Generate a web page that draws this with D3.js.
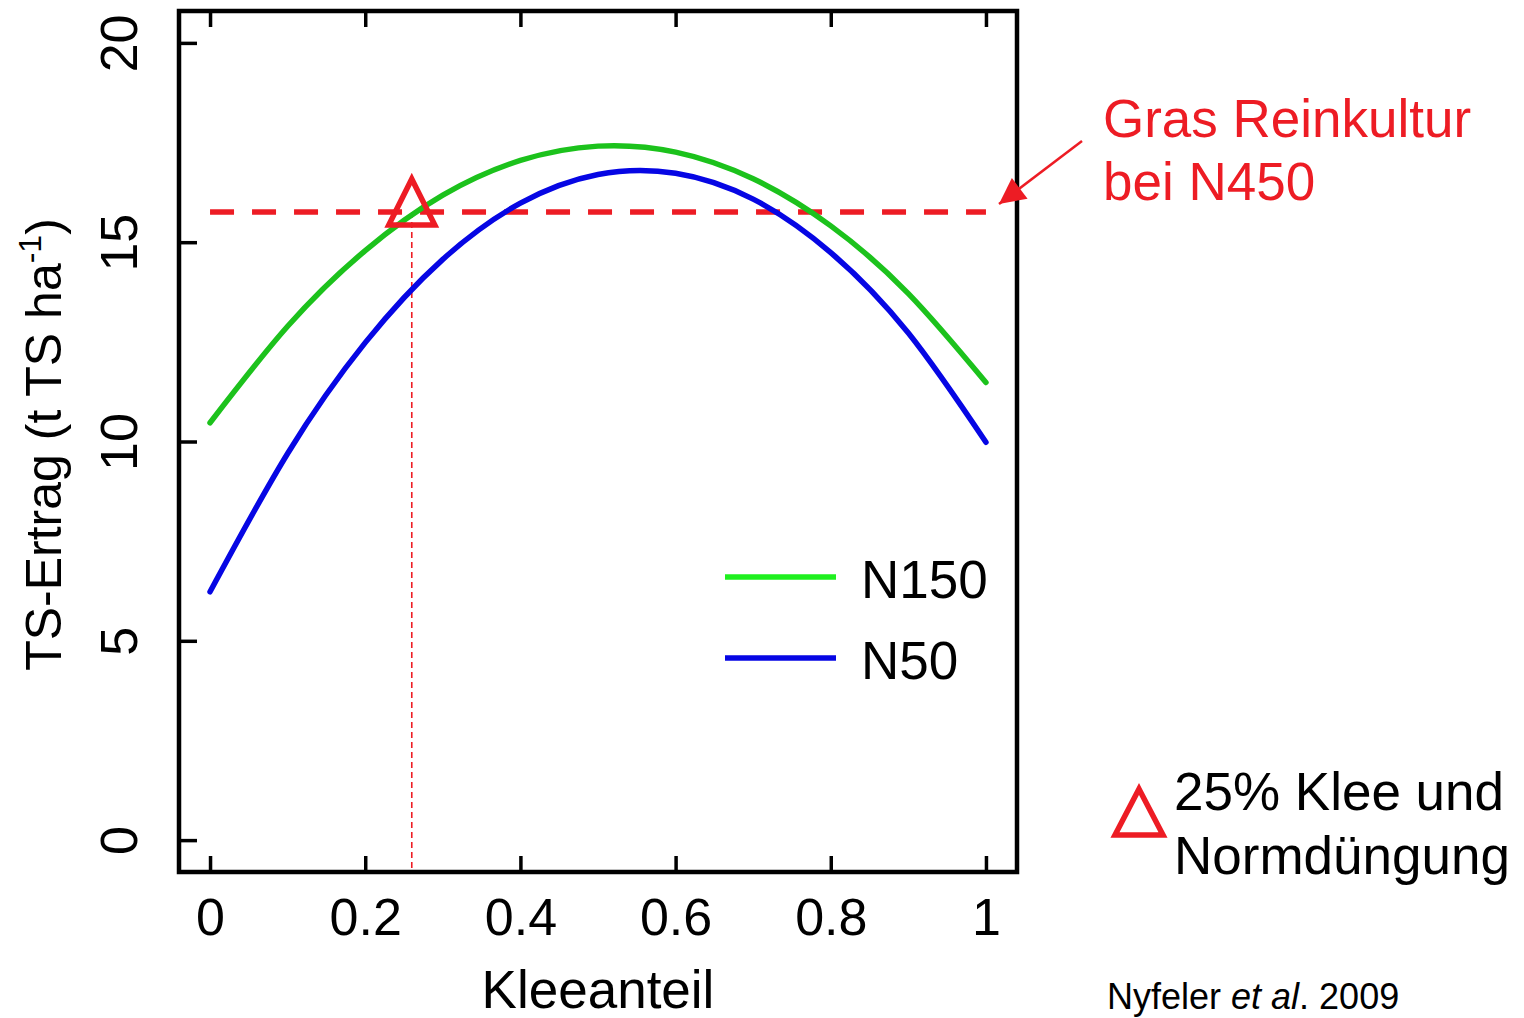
<!DOCTYPE html>
<html>
<head>
<meta charset="utf-8">
<script src="https://cdn.jsdelivr.net/npm/d3@7"></script>
<style>
  html, body { margin: 0; padding: 0; background: #fff; }
  svg { display: block; }
  text { font-family: "Liberation Sans", Arial, Helvetica, sans-serif; }
</style>
</head>
<body>
<svg id="chart" width="1524" height="1018"></svg>
<script>
// ---- data ----
const kleeanteil = [0, 0.1, 0.2, 0.3, 0.4, 0.5, 0.6, 0.7, 0.8, 0.9, 1.0];
const ertragN150 = [10.47, 12.89, 14.79, 16.18, 17.05, 17.41, 17.26, 16.59, 15.41, 13.71, 11.48];
const ertragN50  = [6.23, 9.70, 12.48, 14.57, 15.98, 16.70, 16.73, 16.08, 14.74, 12.72, 9.98];
const seriesNames = ["N150", "N50"];
const xTicks = [0, 0.2, 0.4, 0.6, 0.8, 1];
const xTickLabels = ["0", "0.2", "0.4", "0.6", "0.8", "1"];
const yTicks = [0, 5, 10, 15, 20];
const grasReinkultur = 15.76;          // horizontal reference (Gras Reinkultur bei N450)
const markerKlee = 0.26;                // 25% Klee und Normdüngung
const markerErtrag = 15.76;
const xDomain = [-0.04, 1.04];
const yDomain = [-0.8, 20.8];

const RED = "#ed1c24";
const GREEN = "#1cc21c";
const GREEN_LEG = "#1ff01f";
const BLUE = "#0606e4";

const svg = d3.select("#chart");

const x = d3.scaleLinear().domain(xDomain).range([179, 1017]);
const y = d3.scaleLinear().domain(yDomain).range([872, 11]);

// ---- axes (ticks pointing inward, R style) ----
const xAxis = svg.append("g").attr("transform", `translate(0,${y(yDomain[0])})`)
  .call(d3.axisBottom(x).tickValues(xTicks).tickFormat((d, i) => xTickLabels[i]).tickSizeInner(-16).tickSizeOuter(0));
xAxis.select(".domain").remove();
xAxis.selectAll(".tick line").attr("stroke", "#000").attr("stroke-width", 3.5);
xAxis.selectAll(".tick text").attr("y", 63).attr("dy", null)
  .attr("font-size", 52).attr("fill", "#000");

const xAxisTop = svg.append("g").attr("transform", `translate(0,${y(yDomain[1])})`)
  .call(d3.axisTop(x).tickValues(xTicks).tickFormat("").tickSizeInner(-16).tickSizeOuter(0));
xAxisTop.select(".domain").remove();
xAxisTop.selectAll(".tick line").attr("stroke", "#000").attr("stroke-width", 3.5);

const yAxis = svg.append("g").attr("transform", `translate(${x(xDomain[0])},0)`)
  .call(d3.axisLeft(y).tickValues(yTicks).tickSizeInner(-18).tickSizeOuter(0));
yAxis.select(".domain").remove();
yAxis.selectAll(".tick line").attr("stroke", "#000").attr("stroke-width", 3.5);
yAxis.selectAll(".tick text").attr("x", null).attr("dy", null)
  .attr("transform", "translate(-42,0) rotate(-90)")
  .attr("text-anchor", "middle").attr("font-size", 52).attr("fill", "#000");

// frame
svg.append("rect")
  .attr("x", x(xDomain[0])).attr("y", y(yDomain[1]))
  .attr("width", x(xDomain[1]) - x(xDomain[0]))
  .attr("height", y(yDomain[0]) - y(yDomain[1]))
  .attr("fill", "none").attr("stroke", "#000").attr("stroke-width", 4.5);

// axis titles
svg.append("text").attr("x", (x(0) + x(1)) / 2).attr("y", 1008)
  .attr("text-anchor", "middle").attr("font-size", 53).text("Kleeanteil");

const yt = svg.append("text")
  .attr("transform", `translate(61,${(y(0) + y(20)) / 2 + 3}) rotate(-90)`)
  .attr("text-anchor", "middle").attr("font-size", 50);
yt.append("tspan").text("TS-Ertrag (t TS ha");
yt.append("tspan").attr("dy", -20).attr("font-size", 32).text("-1");
yt.append("tspan").attr("dy", 20).text(")");

// ---- reference lines ----
svg.append("line")
  .attr("x1", x(0)).attr("x2", x(1))
  .attr("y1", y(grasReinkultur)).attr("y2", y(grasReinkultur))
  .attr("stroke", RED).attr("stroke-width", 5.5)
  .attr("stroke-dasharray", "24 18");

svg.append("line")
  .attr("x1", x(markerKlee)).attr("x2", x(markerKlee))
  .attr("y1", y(markerErtrag)).attr("y2", y(yDomain[0]))
  .attr("stroke", RED).attr("stroke-width", 1.6)
  .attr("stroke-dasharray", "6 4");

// ---- curves ----
const line = d3.line()
  .x((d, i) => x(kleeanteil[i]))
  .y(d => y(d))
  .curve(d3.curveNatural);

svg.append("path").datum(ertragN150).attr("d", line)
  .attr("fill", "none").attr("stroke", GREEN).attr("stroke-width", 5.5).attr("stroke-linecap", "round");
svg.append("path").datum(ertragN50).attr("d", line)
  .attr("fill", "none").attr("stroke", BLUE).attr("stroke-width", 5.5).attr("stroke-linecap", "round");

// ---- triangle marker ----
function triPath(cx, cy, up, down, hw) {
  return `M${cx},${cy - up}L${cx + hw},${cy + down}L${cx - hw},${cy + down}Z`;
}
svg.append("path")
  .attr("d", triPath(x(markerKlee), y(markerErtrag), 33, 13, 23))
  .attr("fill", "none").attr("stroke", RED).attr("stroke-width", 5.5);

// ---- legend ----
const legendColors = [GREEN_LEG, BLUE];
const legendY = [577, 658];
seriesNames.forEach((name, i) => {
  svg.append("line").attr("x1", 725).attr("x2", 836)
    .attr("y1", legendY[i]).attr("y2", legendY[i])
    .attr("stroke", legendColors[i]).attr("stroke-width", 5.5);
  svg.append("text").attr("x", 861).attr("y", legendY[i] + 21)
    .attr("font-size", 53).text(name);
});

// ---- annotation: Gras Reinkultur ----
svg.append("defs").append("marker")
  .attr("id", "arrow").attr("viewBox", "0 0 10 10")
  .attr("refX", 10).attr("refY", 5)
  .attr("markerUnits", "userSpaceOnUse")
  .attr("markerWidth", 32).attr("markerHeight", 26)
  .attr("orient", "auto")
  .append("path").attr("d", "M0,0L10,5L0,10Z").attr("fill", RED);

svg.append("line")
  .attr("x1", 1082).attr("y1", 141).attr("x2", 999).attr("y2", 204)
  .attr("stroke", RED).attr("stroke-width", 2.5)
  .attr("marker-end", "url(#arrow)");

svg.append("text").attr("x", 1103).attr("y", 137).attr("fill", RED)
  .attr("font-size", 53).text("Gras Reinkultur");
svg.append("text").attr("x", 1103).attr("y", 200).attr("fill", RED)
  .attr("font-size", 53).text("bei N450");

// ---- annotation: 25% Klee ----
svg.append("path")
  .attr("d", triPath(1139, 818, 29, 17, 24))
  .attr("fill", "none").attr("stroke", RED).attr("stroke-width", 5.5);
svg.append("text").attr("x", 1174).attr("y", 810).attr("font-size", 53).text("25% Klee und");
svg.append("text").attr("x", 1174).attr("y", 874).attr("font-size", 53).text("Normdüngung");

// ---- source ----
const src = svg.append("text").attr("x", 1107).attr("y", 1009).attr("font-size", 36);
src.append("tspan").text("Nyfeler ");
src.append("tspan").attr("font-style", "italic").text("et al");
src.append("tspan").text(". 2009");
</script>
</body>
</html>
